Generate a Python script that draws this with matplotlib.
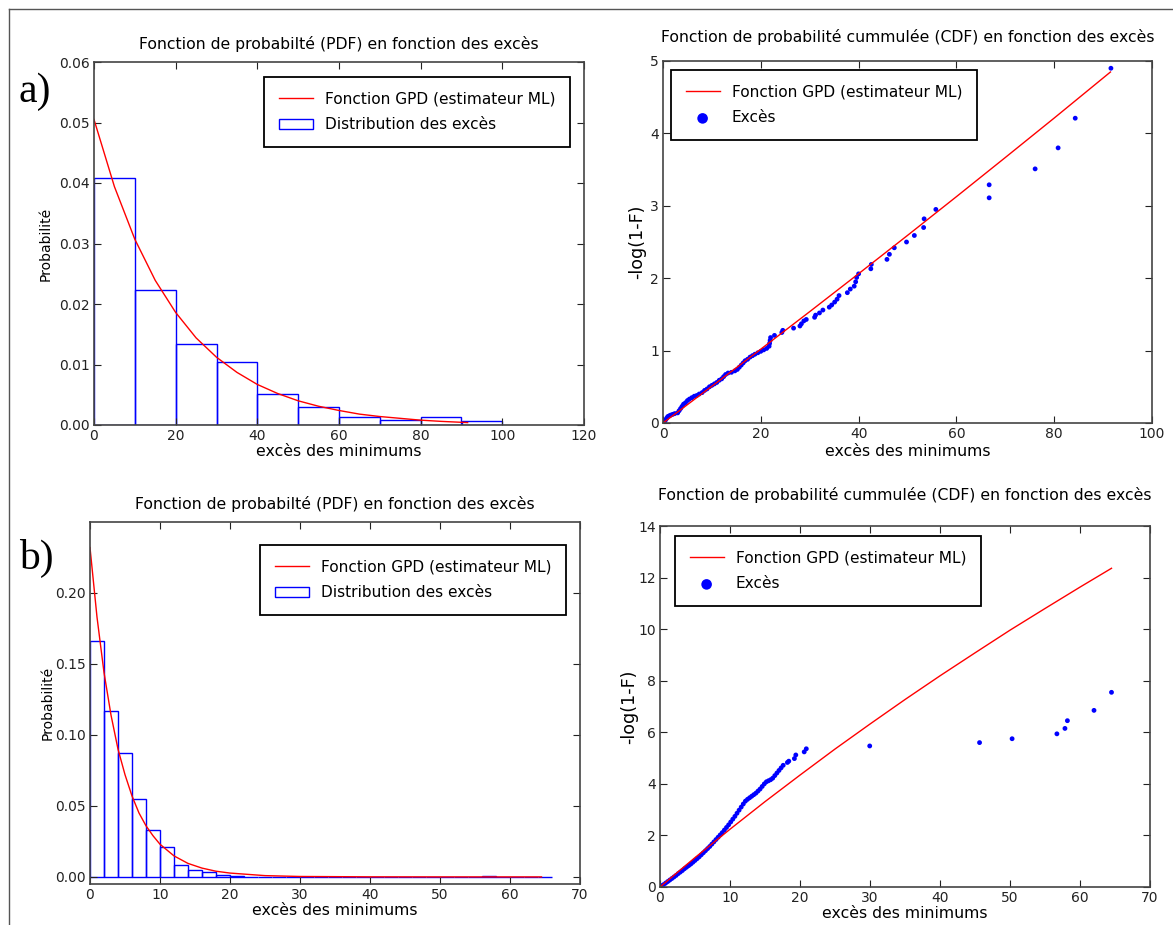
import numpy as np
import matplotlib
matplotlib.use('Agg')
import matplotlib.pyplot as plt
from matplotlib.lines import Line2D

# ---- a) PDF : histogram (bins of 10) + GPD fit
a_edges = [0, 10, 20, 30, 40, 50, 60, 70, 80, 90, 100]
a_hist = [0.0409, 0.0223, 0.0134, 0.0104, 0.0052, 0.0029, 0.0014, 0.0008, 0.0014, 0.0007]
a_pdf_x = [0, 5, 10, 15, 20, 25, 30, 35, 40, 45, 50, 55, 60, 65, 70, 75, 80, 85, 91.5]
a_pdf_y = [0.0505, 0.0394, 0.0307, 0.0239, 0.0186, 0.0144, 0.0112, 0.0087, 0.0067, 0.0052,
           0.0040, 0.0031, 0.0024, 0.0018, 0.0014, 0.0011, 0.0008, 0.0006, 0.0004]

# ---- a) CDF : -log(1-F)
a_cdf_x = [0, 10, 20, 30, 40, 50, 60, 70, 80, 91.5]
a_cdf_y = [0, 0.508, 1.020, 1.538, 2.062, 2.591, 3.126, 3.667, 4.212, 4.848]
a_exc_x = [0.2, 0.4, 0.6, 0.8, 1.0, 1.3, 1.6, 2.0, 2.4, 3.0, 3.3, 3.6, 3.9, 4.2, 4.6, 5.0, 5.4,
           5.9, 6.4, 6.9, 7.4, 8.0, 8.5, 9.0, 9.5, 10.0, 10.5, 11.0, 11.5, 12.0, 12.4, 12.8,
           13.3, 14.0, 14.7, 15.2, 15.6, 16.0, 16.4, 16.8, 17.3, 17.8, 18.3, 18.8, 19.4, 20.0,
           20.6, 21.2, 21.7, 21.8, 21.9, 22.0, 22.8, 24.3, 24.5, 26.7, 28.0, 28.3, 28.8, 29.3,
           31.0, 31.2, 32.0, 32.7, 34.0, 34.5, 35.1, 35.6, 36.0, 37.7, 38.3, 39.1, 39.4, 39.6,
           40.0, 42.5, 42.6, 45.8, 46.3, 47.3, 49.8, 51.4, 53.3, 53.4, 55.8, 66.7, 66.7, 76.1,
           80.8, 84.3, 91.6]
a_exc_y = [0.01, 0.03, 0.05, 0.07, 0.09, 0.10, 0.11, 0.12, 0.13, 0.14, 0.17, 0.20, 0.23, 0.26,
           0.28, 0.31, 0.33, 0.35, 0.37, 0.38, 0.40, 0.42, 0.45, 0.47, 0.50, 0.52, 0.54, 0.56,
           0.59, 0.61, 0.64, 0.67, 0.69, 0.70, 0.72, 0.74, 0.77, 0.80, 0.83, 0.86, 0.88, 0.91,
           0.93, 0.95, 0.97, 0.99, 1.01, 1.03, 1.06, 1.10, 1.14, 1.18, 1.21, 1.25, 1.28, 1.31,
           1.34, 1.37, 1.41, 1.43, 1.46, 1.49, 1.52, 1.56, 1.60, 1.63, 1.67, 1.71, 1.76, 1.80,
           1.85, 1.89, 1.95, 2.01, 2.06, 2.13, 2.19, 2.26, 2.33, 2.42, 2.50, 2.59, 2.70, 2.82,
           2.95, 3.11, 3.29, 3.51, 3.80, 4.21, 4.90]

# ---- b) PDF : histogram (bins of 2) + GPD fit
b_edges = list(range(0, 68, 2))
b_hist = [0.166, 0.1167, 0.0871, 0.0549, 0.0329, 0.0211, 0.0085, 0.0052, 0.0033, 0.0016,
          0.0008, 0, 0, 0, 0.00026, 0, 0, 0, 0, 0, 0, 0, 0.00026, 0, 0, 0.00026, 0, 0,
          0.00052, 0.00026, 0, 0.00026, 0.00026]
b_pdf_x = [0, 1, 2, 3, 4, 5, 6, 7, 8, 9, 10, 12, 14, 16, 18, 20, 25, 30, 40, 50, 64.5]
b_pdf_y = [0.232, 0.183, 0.144, 0.114, 0.090, 0.072, 0.057, 0.045, 0.036, 0.029, 0.023,
           0.0148, 0.0095, 0.0062, 0.0040, 0.0027, 0.0009, 0.0003, 0.00005, 0.00001, 0.0]

# ---- b) CDF : -log(1-F)
b_cdf_x = [0, 5, 10, 15, 20, 25, 30, 35, 40, 45, 50, 55, 60, 64.5]
b_cdf_y = [0, 1.14, 2.24, 3.31, 4.34, 5.35, 6.32, 7.27, 8.19, 9.08, 9.96, 10.80, 11.63, 12.36]
b_exc_x = [0.1, 0.3, 0.5, 0.8, 1.1, 1.4, 1.7, 2.0, 2.3, 2.6, 2.9, 3.2, 3.5, 3.8, 4.1, 4.4, 4.7,
           5.0, 5.3, 5.6, 5.9, 6.2, 6.5, 6.8, 7.1, 7.4, 7.7, 8.0, 8.3, 8.6, 8.9, 9.2, 9.5, 9.8,
           10.1, 10.4, 10.7, 11.0, 11.3, 11.6, 11.9, 12.2, 12.5, 12.8, 13.1, 13.4, 13.7, 14.0,
           14.3, 14.6, 14.9, 15.2, 15.5, 15.8, 16.1, 16.4, 16.7, 17.0, 17.3, 17.6, 18.2, 18.4,
           19.2, 19.4, 20.6, 20.9, 29.96, 45.65, 50.3, 56.7, 57.85, 58.2, 62.0, 64.5]
b_exc_y = [0.01, 0.05, 0.09, 0.15, 0.21, 0.27, 0.33, 0.39, 0.45, 0.52, 0.58, 0.64, 0.71, 0.77,
           0.83, 0.89, 0.96, 1.03, 1.10, 1.17, 1.25, 1.33, 1.41, 1.49, 1.57, 1.66, 1.75, 1.84,
           1.93, 2.02, 2.11, 2.21, 2.31, 2.41, 2.52, 2.63, 2.74, 2.86, 2.98, 3.10, 3.22, 3.33,
           3.40, 3.46, 3.52, 3.58, 3.64, 3.72, 3.80, 3.90, 4.00, 4.08, 4.12, 4.16, 4.22, 4.32,
           4.42, 4.52, 4.62, 4.72, 4.83, 4.88, 4.98, 5.12, 5.24, 5.36, 5.47, 5.60, 5.75, 5.94,
           6.15, 6.45, 6.85, 7.55]

W, H = 1173, 925
fig = plt.figure(figsize=(W / 100, H / 100), dpi=100)
fig.patch.set_facecolor('white')


def box(l, t, r, b):
    return [l / W, 1 - b / H, (r - l) / W, (b - t) / H]


def style(ax):
    ax.tick_params(direction='in', top=True, right=True, length=5, labelsize=10,
                   colors='#222222', pad=3)
    for s in ax.spines.values():
        s.set_color('#444444')
        s.set_linewidth(1.2)


title_a = 'Fonction de probabilté (PDF) en fonction des excès'
title_c = 'Fonction de probabilité cummulée (CDF) en fonction des excès'
lab_gpd = 'Fonction GPD (estimateur ML)'
TFS = 11.25
XFS = 11.3

# a) PDF
ax1 = fig.add_axes(box(94, 62, 584, 425))
ax1.bar(a_edges[:-1], a_hist, width=np.diff(a_edges), align='edge', fill=False,
        edgecolor='b', linewidth=1, label='Distribution des excès')
ax1.plot(a_pdf_x, a_pdf_y, 'r-', linewidth=1, label=lab_gpd)
ax1.set_xlim(0, 120)
ax1.set_ylim(0, 0.06)
ax1.set_yticks([0, 0.01, 0.02, 0.03, 0.04, 0.05, 0.06])
ax1.set_yticklabels(['0.00', '0.01', '0.02', '0.03', '0.04', '0.05', '0.06'])
ax1.set_title(title_a, fontsize=TFS, pad=9)
ax1.set_xlabel('excès des minimums', fontsize=XFS, labelpad=0.5)
ax1.set_ylabel('Probabilité', fontsize=10, labelpad=5)
style(ax1)

# a) CDF
ax2 = fig.add_axes(box(663, 61, 1152, 423))
ax2.plot(a_cdf_x, a_cdf_y, 'r-', linewidth=1, label=lab_gpd)
ax2.scatter(a_exc_x, a_exc_y, s=12, c='b', edgecolors='none', label='Excès')
ax2.set_xlim(0, 100)
ax2.set_ylim(0, 5)
ax2.set_title(title_c, fontsize=TFS, pad=14)
ax2.set_xlabel('excès des minimums', fontsize=XFS, labelpad=2)
ax2.set_ylabel('-log(1-F)', fontsize=12.6, labelpad=2.5)
style(ax2)

# b) PDF
ax3 = fig.add_axes(box(90, 522, 580, 884))
ax3.bar(b_edges[:-1], b_hist, width=np.diff(b_edges), align='edge', fill=False,
        edgecolor='b', linewidth=1, label='Distribution des excès')
ax3.plot(b_pdf_x, b_pdf_y, 'r-', linewidth=1, label=lab_gpd)
ax3.set_xlim(0, 70)
ax3.set_ylim(-0.005, 0.25)
ax3.set_yticks([0, 0.05, 0.10, 0.15, 0.20])
ax3.set_yticklabels(['0.00', '0.05', '0.10', '0.15', '0.20'])
ax3.set_title(title_a, fontsize=TFS, pad=9)
ax3.set_xlabel('excès des minimums', fontsize=XFS, labelpad=0.5)
ax3.set_ylabel('Probabilité', fontsize=10, labelpad=0.5)
style(ax3)

# b) CDF
ax4 = fig.add_axes(box(660, 526, 1150, 887))
ax4.plot(b_cdf_x, b_cdf_y, 'r-', linewidth=1, label=lab_gpd)
ax4.scatter(b_exc_x, b_exc_y, s=12, c='b', edgecolors='none', label='Excès')
ax4.set_xlim(0, 70)
ax4.set_ylim(0, 14)
ax4.set_title(title_c, fontsize=TFS, pad=19)
ax4.set_xlabel('excès des minimums', fontsize=XFS, labelpad=0.5)
ax4.set_ylabel('-log(1-F)', fontsize=12.6, labelpad=0)
style(ax4)

# legend boxes: anchor corner in figure pixels
legs = [(ax1, 'upper right', (570, 77)), (ax2, 'upper left', (671, 70)),
        (ax3, 'upper right', (566, 545)), (ax4, 'upper left', (675, 536))]
for ax, loc, (px, py) in legs:
    h, l = ax.get_legend_handles_labels()
    order = [l.index(lab_gpd)] + [i for i in range(len(l)) if l[i] != lab_gpd]
    leg = ax.legend([h[i] for i in order], [l[i] for i in order], loc=loc, fontsize=11.1,
                    bbox_to_anchor=(px / W, 1 - py / H), bbox_transform=fig.transFigure,
                    fancybox=False, framealpha=1, edgecolor='black', borderaxespad=0,
                    handlelength=2.2, handletextpad=0.8, scatterpoints=1, markerscale=2.2,
                    borderpad=0.95, labelspacing=0.7)
    leg.get_frame().set_linewidth(1.3)

fig.text(19 / W, 1 - 102 / H, 'a)', family='Liberation Serif', fontsize=30)
fig.text(19 / W, 1 - 569 / H, 'b)', family='Liberation Serif', fontsize=30)

# screenshot frame
fig.add_artist(Line2D([9 / W, 9 / W], [0, 1 - 9 / H], transform=fig.transFigure,
                      color='#555555', linewidth=1))
fig.add_artist(Line2D([9 / W, 1], [1 - 9 / H, 1 - 9 / H], transform=fig.transFigure,
                      color='#555555', linewidth=1))

plt.savefig('out.png', dpi=100)
